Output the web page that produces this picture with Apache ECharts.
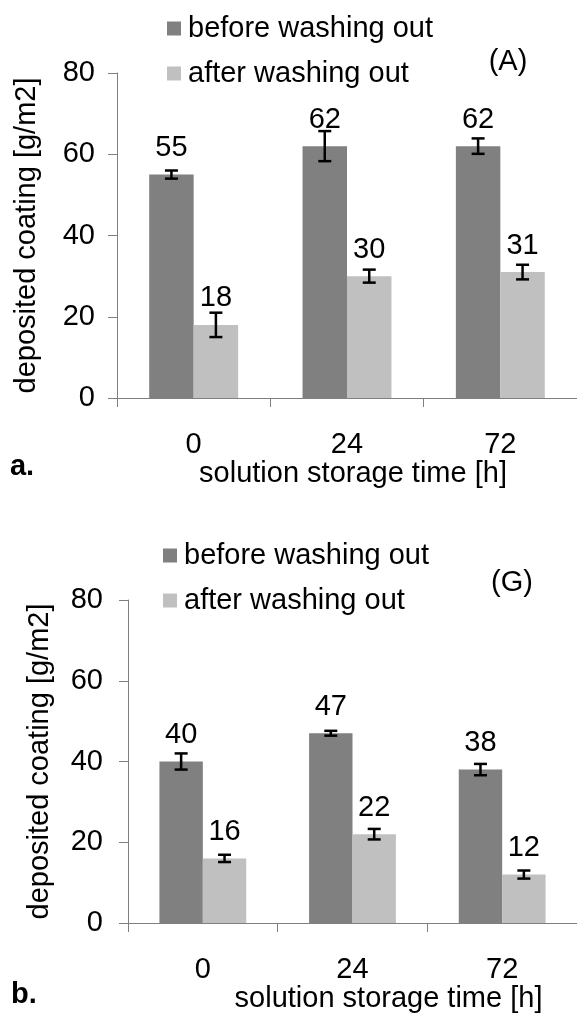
<!DOCTYPE html>
<html>
<head>
<meta charset="utf-8">
<script src="https://cdn.jsdelivr.net/npm/echarts@6/dist/echarts.min.js"></script>
<style>
  html, body { margin: 0; padding: 0; background: #fff; }
  #chart { width: 577px; height: 1019px; }
</style>
</head>
<body>
<div id="chart"></div>
<script>
// Storage time of the solution, hours
const categories = ['0', '24', '72'];
const seriesNames = ['before washing out', 'after washing out'];
const yTicks = { min: 0, max: 80, interval: 20 };

// Panel (A): deposited coating, g/m2, with error half-widths
const beforeA = [55, 62, 62];
const afterA = [18, 30, 31];
const beforeAErr = [1.0, 3.7, 1.9];
const afterAErr = [3.0, 1.6, 1.8];

// Panel (G)
const beforeG = [40, 47, 38];
const afterG = [16, 22, 12];
const beforeGErr = [2.0, 0.6, 1.4];
const afterGErr = [0.9, 1.3, 1.0];

const FONT = "'Liberation Sans', Arial, sans-serif";
const FS = 29;
const DARK = '#808080';
const LIGHT = '#c0c0c0';
const AXIS = '#7f7f7f';
const GAP = 0.42; // barCategoryGap fraction

function errRange(vals, errs) {
  return vals.map((v, i) => [i, v - errs[i], v + errs[i]]);
}

// side = -1 for the left bar of a pair, +1 for the right one
function errorBar(side) {
  return function (params, api) {
    const i = api.value(0);
    const lo = api.coord([i, api.value(1)]);
    const hi = api.coord([i, api.value(2)]);
    const catW = api.size([1, 0])[0];
    const x = lo[0] + side * catW * (1 - GAP) / 4;
    const cap = 6.5;
    const st = { stroke: '#000', lineWidth: 2.5 };
    return {
      type: 'group',
      children: [
        { type: 'line', shape: { x1: x, y1: lo[1], x2: x, y2: hi[1] }, style: st },
        { type: 'line', shape: { x1: x - cap, y1: hi[1], x2: x + cap, y2: hi[1] }, style: st },
        { type: 'line', shape: { x1: x - cap, y1: lo[1], x2: x + cap, y2: lo[1] }, style: st }
      ]
    };
  };
}

function xAxis(gridIndex, nameShift, nameGap) {
  return {
    type: 'category', gridIndex, data: categories, boundaryGap: true,
    axisLine: { show: true, lineStyle: { color: AXIS, width: 1 } },
    axisTick: { show: true, length: 9, lineStyle: { color: AXIS } },
    axisLabel: { color: '#000', fontSize: FS, fontFamily: FONT, margin: 32 },
    name: 'solution storage time [h]', nameLocation: 'middle', nameGap,
    nameTextStyle: { color: '#000', fontSize: FS, fontFamily: FONT, padding: [0, 0, 0, nameShift * 2] }
  };
}

function yAxis(gridIndex, labelMargin, nameGap) {
  return {
    type: 'value', gridIndex, min: yTicks.min, max: yTicks.max, interval: yTicks.interval,
    axisLine: { show: true, lineStyle: { color: AXIS, width: 1 } },
    axisTick: { show: true, length: 9, lineStyle: { color: AXIS } },
    splitLine: { show: false },
    axisLabel: { color: '#000', fontSize: FS, fontFamily: FONT, margin: labelMargin },
    name: 'deposited coating [g/m2]', nameLocation: 'middle', nameGap, nameRotate: 90,
    nameTextStyle: { color: '#000', fontSize: FS, fontFamily: FONT }
  };
}

function barSeries(name, data, color, axisIndex) {
  return {
    type: 'bar', name, data, xAxisIndex: axisIndex, yAxisIndex: axisIndex,
    barGap: 0, barCategoryGap: (GAP * 100) + '%',
    itemStyle: { color },
    label: { show: true, position: 'top', distance: 12, color: '#000', fontSize: FS, fontFamily: FONT },
    emphasis: { disabled: true }, z: 2
  };
}

function errSeries(data, side, axisIndex) {
  return {
    type: 'custom', data, xAxisIndex: axisIndex, yAxisIndex: axisIndex,
    encode: { x: 0, y: [1, 2] }, renderItem: errorBar(side), z: 5, silent: true
  };
}

function legend(left, top) {
  return {
    left, top, orient: 'vertical', itemWidth: 14, itemHeight: 14, itemGap: 16,
    icon: 'rect', selectedMode: false,
    data: seriesNames,
    textStyle: { color: '#000', fontSize: FS, fontFamily: FONT, lineHeight: 29, padding: [0, 0, 0, 2] }
  };
}

function label(text, x, y, bold) {
  return {
    type: 'text', x, y,
    style: { text, fill: '#000', fontSize: FS, fontFamily: FONT, fontWeight: bold ? 'bold' : 'normal',
             textAlign: 'center', textVerticalAlign: 'middle' }
  };
}

const chart = echarts.init(document.getElementById('chart'), null, { renderer: 'canvas' });
chart.setOption({
  animation: false,
  backgroundColor: '#fff',
  color: [DARK, LIGHT],
  grid: [
    { left: 117, top: 73, right: 0, height: 325 },
    { left: 128, top: 600, right: -3, height: 323 }
  ],
  legend: [legend(162, 9), legend(158, 536)],
  xAxis: [xAxis(0, 6, 61), xAxis(1, 36, 59)],
  yAxis: [yAxis(0, 22, 76), yAxis(1, 25, 74)],
  series: [
    barSeries(seriesNames[0], beforeA, DARK, 0),
    barSeries(seriesNames[1], afterA, LIGHT, 0),
    errSeries(errRange(beforeA, beforeAErr), -1, 0),
    errSeries(errRange(afterA, afterAErr), 1, 0),
    barSeries(seriesNames[0], beforeG, DARK, 1),
    barSeries(seriesNames[1], afterG, LIGHT, 1),
    errSeries(errRange(beforeG, beforeGErr), -1, 1),
    errSeries(errRange(afterG, afterGErr), 1, 1)
  ],
  graphic: [
    label('(A)', 508, 62, false),
    label('(G)', 512, 583, false),
    label('a.', 22, 467, true),
    label('b.', 24, 995, true)
  ]
});
</script>
</body>
</html>
